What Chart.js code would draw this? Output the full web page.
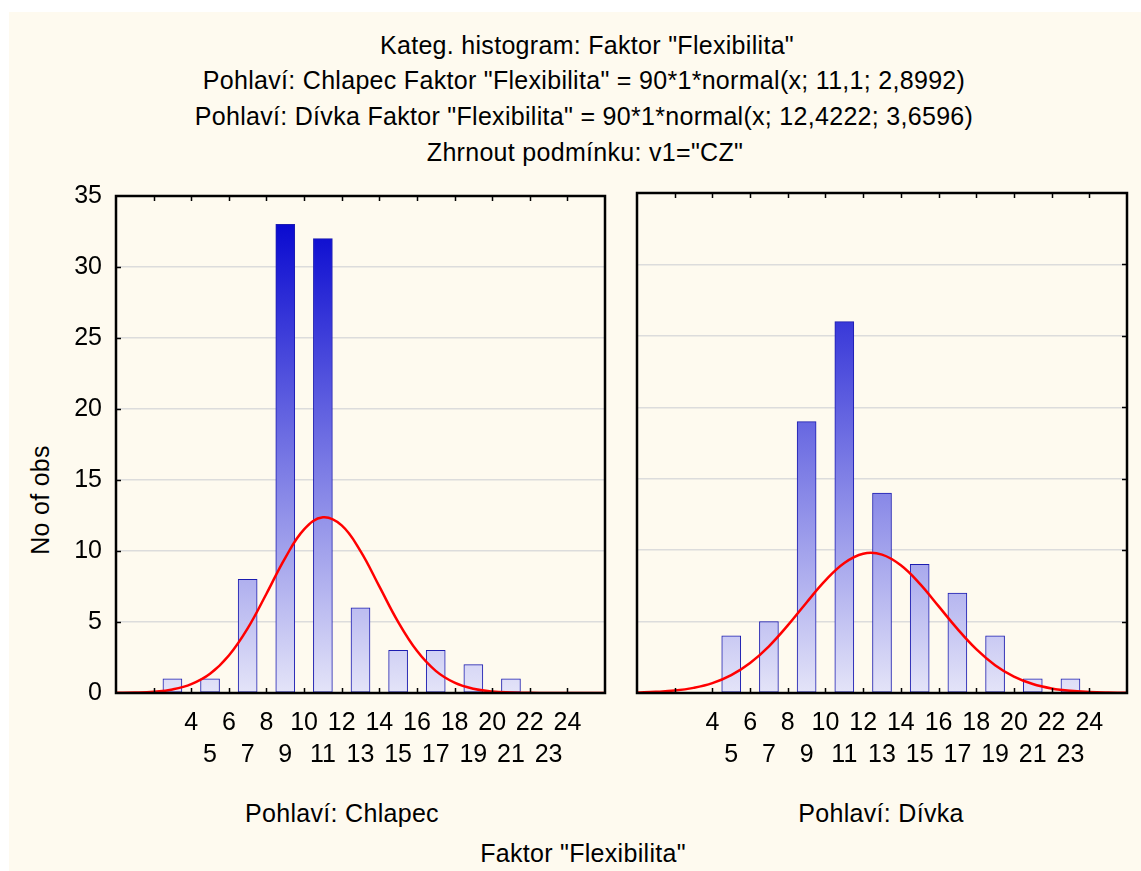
<!DOCTYPE html>
<html>
<head>
<meta charset="utf-8">
<script src="https://cdn.jsdelivr.net/npm/chart.js@4.4.1/dist/chart.umd.min.js"></script>
<style>
  body { margin: 0; background: #fff; width: 1141px; height: 871px; position: relative; overflow: hidden;
         font-family: "Liberation Sans", Arial, sans-serif; color: #000; }
  #bg { position: absolute; left: 9px; top: 12px; right: 0; bottom: 0; background: #fefaef; }
  .txt { position: absolute; font-size: 25px; letter-spacing: 0.3px; white-space: nowrap; transform: translate(-50%, -50%); }
  .box { position: absolute; }
</style>
</head>
<body>
<div id="bg"></div>
<div class="txt" style="left:587px; top:45px">Kateg. histogram: Faktor "Flexibilita"</div>
<div class="txt" style="left:584px; top:80px">Pohlaví: Chlapec Faktor "Flexibilita" = 90*1*normal(x; 11,1; 2,8992)</div>
<div class="txt" style="left:584px; top:116px">Pohlaví: Dívka Faktor "Flexibilita" = 90*1*normal(x; 12,4222; 3,6596)</div>
<div class="txt" style="left:585px; top:152px">Zhrnout podmínku: v1="CZ"</div>
<div class="txt" style="left:40px; top:500px; transform: translate(-50%, -50%) rotate(-90deg)">No of obs</div>
<div class="txt" style="left:342px; top:813px">Pohlaví: Chlapec</div>
<div class="txt" style="left:881px; top:813px">Pohlaví: Dívka</div>
<div class="txt" style="left:583px; top:853px">Faktor "Flexibilita"</div>

<div class="box" style="left:60px; top:167px; width:560px; height:613px"><canvas id="left"></canvas></div>
<div class="box" style="left:622px; top:180px; width:520px; height:600px"><canvas id="right"></canvas></div>

<script>
// bin centres of the histogram (odd values of the factor)
const binCenters = [1, 3, 5, 7, 9, 11, 13, 15, 17, 19, 21, 23];
const boysCounts  = [0, 1, 1, 8, 33, 32, 6, 3, 3, 2, 1, 0];
const girlsCounts = [0, 0, 4, 5, 19, 26, 14, 9, 7, 4, 1, 1];

// fitted normal curves, read at every integer x
const curveX = [0, 1, 2, 3, 4, 5, 6, 7, 8, 9, 10, 11, 12, 13, 14, 15, 16, 17, 18, 19, 20, 21, 22, 23, 24, 25, 26];
const boysCurve  = [0.01, 0.03, 0.09, 0.25, 0.62, 1.35, 2.64, 4.55, 6.99, 9.52, 11.52, 12.37, 11.8, 9.99, 7.51, 5.01, 2.97, 1.56, 0.73, 0.3, 0.11, 0.04, 0.01, 0, 0, 0, 0];
const girlsCurve = [0.03, 0.08, 0.17, 0.36, 0.69, 1.25, 2.1, 3.27, 4.73, 6.34, 7.88, 9.1, 9.75, 9.69, 8.94, 7.66, 6.08, 4.49, 3.07, 1.95, 1.15, 0.63, 0.32, 0.15, 0.07, 0.03, 0.01];

// x tick labels: even values on the first row, odd values on the second
const xTickLabels = [4, 5, 6, 7, 8, 9, 10, 11, 12, 13, 14, 15, 16, 17, 18, 19, 20, 21, 22, 23, 24];
const yTicks = [0, 5, 10, 15, 20, 25, 30, 35];

const font = { family: '"Liberation Sans", Arial, sans-serif', size: 25 };

function barGradient(context) {
  const chart = context.chart;
  const area = chart.chartArea;
  if (!area) return '#8888e0';
  const y = chart.scales.y;
  const g = chart.ctx.createLinearGradient(0, y.getPixelForValue(0), 0, y.getPixelForValue(33));
  g.addColorStop(0, '#e4e4f8');
  g.addColorStop(1, '#0a0ad0');
  return g;
}

// frame and inward tick marks
const framePlugin = {
  id: 'frame',
  afterDatasetsDraw(chart, args, opts) {
    const { ctx, chartArea: a, scales } = chart;
    ctx.save();
    ctx.strokeStyle = '#000';
    ctx.lineWidth = 1.5;
    ctx.beginPath();
    for (let v = 2; v <= 24; v += 2) {
      const px = Math.round(scales.x.getPixelForValue(v)) + 0.5;
      ctx.moveTo(px, a.bottom); ctx.lineTo(px, a.bottom - 5);
      ctx.moveTo(px, a.top); ctx.lineTo(px, a.top + 5);
    }
    for (let v = 5; v <= 30; v += 5) {
      const py = Math.round(scales.y.getPixelForValue(v)) + 0.5;
      if (opts.side === 'left') { ctx.moveTo(a.left, py); ctx.lineTo(a.left + 5, py); }
      else { ctx.moveTo(a.right, py); ctx.lineTo(a.right - 5, py); }
    }
    ctx.stroke();
    ctx.lineWidth = 2.5;
    ctx.strokeRect(a.left, a.top, a.right - a.left, a.bottom - a.top);
    ctx.restore();
  }
};

function makeChart(id, counts, curve, side, axisWidth, pad) {
  return new Chart(document.getElementById(id), {
    type: 'bar',
    data: {
      datasets: [
        {
          type: 'line',
          data: curveX.map((x, i) => ({ x: x, y: curve[i] })),
          borderColor: '#ff0000',
          borderWidth: 2.5,
          pointRadius: 0,
          tension: 0.4,
          fill: false,
          order: 0
        },
        {
          type: 'bar',
          data: binCenters.map((x, i) => ({ x: x, y: counts[i] })),
          backgroundColor: barGradient,
          borderColor: '#1c1cb0',
          borderWidth: 1,
          borderSkipped: false,
          barThickness: 19,
          order: 1
        }
      ]
    },
    options: {
      responsive: true,
      maintainAspectRatio: false,
      animation: false,
      events: [],
      layout: { padding: pad },
      plugins: { legend: { display: false }, tooltip: { enabled: false }, frame: { side: side } },
      scales: {
        x: {
          type: 'linear',
          min: 0,
          max: 26,
          offset: false,
          grid: { display: false },
          border: { display: false },
          afterBuildTicks(scale) {
            scale.ticks = xTickLabels.map(v => ({ value: v }));
          },
          afterFit(scale) { scale.height = 87; },
          ticks: {
            autoSkip: false,
            maxRotation: 0,
            padding: 6,
            color: '#000',
            font: Object.assign({ lineHeight: 1.28 }, font),
            callback: v => (v % 2 === 0 ? [String(v), ''] : ['', String(v)])
          }
        },
        y: {
          min: 0,
          max: 35,
          position: side,
          afterBuildTicks(scale) {
            scale.ticks = yTicks.map(v => ({ value: v }));
          },
          afterFit(scale) { scale.width = axisWidth; },
          grid: { color: '#dcdcdc', lineWidth: 1.5, drawTicks: false },
          border: { display: false },
          ticks: { display: side === 'left', padding: 14, color: '#000', font: font }
        }
      }
    },
    plugins: [framePlugin]
  });
}

makeChart('left', boysCounts, boysCurve, 'left', 56, { top: 2, right: 15, left: 0, bottom: 0 });
makeChart('right', girlsCounts, girlsCurve, 'right', 15, { top: 13, right: 0, left: 15, bottom: 0 });
</script>
</body>
</html>
